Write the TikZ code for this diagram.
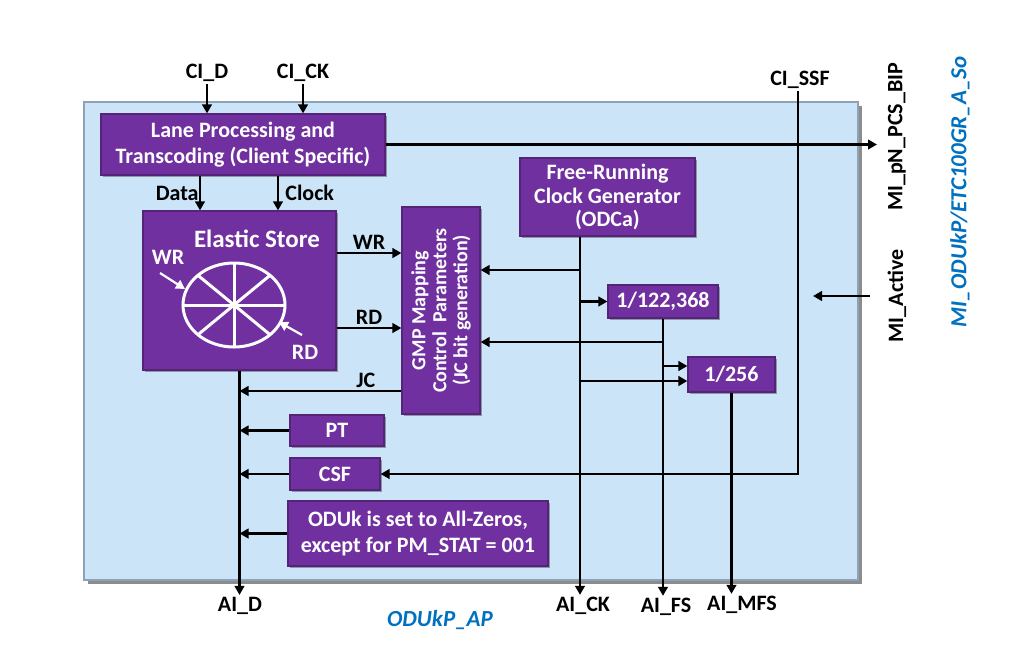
\documentclass[tikz,border=0pt]{standalone}
\usepackage{fontspec}
\setmainfont{Carlito}
\usetikzlibrary{arrows.meta,shadows}
\definecolor{odupurple}{HTML}{7030A0}
\definecolor{oduedge}{HTML}{54237A}
\definecolor{odusky}{HTML}{CCE4F8}
\definecolor{oduframe}{HTML}{8DA2B6}
\definecolor{odublue}{HTML}{0070C0}
\tikzset{
	fnbox/.style={draw=oduedge, line width=0.6pt, fill=odupurple, text=white,
		font=\bfseries\fontsize{11}{13}\selectfont, align=center, inner sep=0pt,
		drop shadow={shadow xshift=1pt, shadow yshift=-1pt, fill=black!60, opacity=0.6}},
	sig/.style={line width=1.4pt, -{Triangle[length=4.5pt,width=4.8pt]}},
	lbl/.style={font=\bfseries\fontsize{11}{12}\selectfont, inner sep=1pt},
	inlbl/.style={lbl, text=white},
	ttl/.style={font=\bfseries\itshape\fontsize{11.5}{12}\selectfont, text=odublue, inner sep=1pt}
}
\begin{document}
\begin{tikzpicture}[x=0.5pt,y=-0.5pt]
			\useasboundingbox (0,0) rectangle (1024,666);
			\fill[black!45] (88,106) rectangle (862,584);
			\draw[oduframe, fill=odusky, line width=0.8pt] (84,102) rectangle (858,580);
			\node[fnbox, minimum width=142pt, minimum height=30.5pt] (lane) at (243,144.5) {Lane Processing and\\Transcoding (Client Specific)};
			\node[fnbox, minimum width=96.5pt, minimum height=79.5pt] (es) at (239.5,290.5) {};
			\node[inlbl, font=\bfseries\fontsize{12.5}{14}\selectfont] (estitle) at (257,239) {Elastic Store};
			\node[fnbox, minimum width=39pt, minimum height=103.5pt] (gmp) at (441,310.5) {};
			\node[inlbl, rotate=90, align=center, font=\bfseries\fontsize{10}{10.5}\selectfont] (gmptext) at (gmp) {GMP Mapping\\Control~ Parameters\\(JC bit generation)};
			\node[fnbox, minimum width=87.5pt, minimum height=39pt, font=\bfseries\fontsize{11}{11.8}\selectfont] (frcg) at (607.5,197) {Free-Running\\Clock Generator\\(ODCa)};
			\node[fnbox, minimum width=55pt, minimum height=16.5pt] (divfs) at (663,301.5) {1/122,368};
			\node[fnbox, minimum width=43.5pt, minimum height=17.5pt] (divmfs) at (731.5,374.5) {1/256};
			\node[fnbox, minimum width=47pt, minimum height=15.5pt] (pt) at (337,430.5) {PT};
			\node[fnbox, minimum width=45pt, minimum height=16pt] (csf) at (335,474) {CSF};
			\node[fnbox, minimum width=130pt, minimum height=32.5pt] (zeros) at (418,533.5) {ODUk is set to All-Zeros,\\except for PM\_STAT = 001};

			\draw[white, line width=1.5pt] (234,305) ellipse [x radius=51, y radius=42];
			\foreach \a in {0,45,90,135}
				\draw[white, line width=1.5pt] ({234+51*cos(\a)},{305+42*sin(\a)}) -- ({234-51*cos(\a)},{305-42*sin(\a)});
			\node[inlbl] (eswr) at (168,257) {WR};
			\node[inlbl] (esrd) at (305,352) {RD};
			\coordinate (wrfrom) at (160,273);
			\coordinate (wrto) at (185,289);
			\coordinate (rdfrom) at (302,335);
			\coordinate (rdto) at (279,322);
			\draw[sig, white, line width=1.1pt] (wrfrom) -- (wrto);
			\draw[sig, white, line width=1.1pt] (rdfrom) -- (rdto);

			\node[lbl] (cid) at (207,73) {CI\_D};
			\node[lbl] (cick) at (303,73) {CI\_CK};
			\node[lbl] (cissf) at (800,80) {CI\_SSF};
			\node[lbl] (aid) at (240,606) {AI\_D};
			\node[lbl] (aick) at (583,606) {AI\_CK};
			\node[lbl] (aifs) at (666,607) {AI\_FS};
			\node[lbl] (aimfs) at (742,605) {AI\_MFS};
			\node[lbl, rotate=90] (mipn) at (897,137) {MI\_pN\_PCS\_BIP};
			\node[lbl, rotate=90] (miact) at (897,296) {MI\_Active};
			\node[ttl, rotate=90] (apname) at (960,192) {MI\_ODUkP/ETC100GR\_A\_So};
			\node[ttl] (ap) at (440,620) {ODUkP\_AP};
			\coordinate (mipnend) at (877,144.5);
			\coordinate (miactfrom) at (870,296);
			\coordinate (miactto) at (813,296);

			\draw[sig] (cid) -- (cid |- lane.north);
			\draw[sig] (cick) -- (cick |- lane.north);
			\draw[sig] (lane.east) -- (mipnend);
			\draw[sig] (miactfrom) -- (miactto);
			\draw[sig] (200,0 |- lane.south) -- (200,0 |- es.north) node[lbl, midway, left=-1pt] (datal) {Data};
			\draw[sig] (278,0 |- lane.south) -- (278,0 |- es.north) node[lbl, midway, right=2pt] (clockl) {Clock};
			\draw[sig] (es.east |- 0,253) -- (gmp.west |- 0,253) node[lbl, midway, above] (wrl) {WR};
			\draw[sig] (es.east |- 0,328) -- (gmp.west |- 0,328) node[lbl, midway, above] (rdl) {RD};
			\draw[sig] (gmp.west |- 0,391) -- (es.south |- 0,391) node[lbl, pos=0.22, above] (jcl) {JC};
			\draw[sig] (es.south) -- (es.south |- aid.north);
			\draw[sig] (pt.west) -- (pt.west -| es.south);
			\draw[sig] (csf.west) -- (csf.west -| es.south);
			\draw[sig] (zeros.west) -- (zeros.west -| es.south);
			\draw[sig] (cissf.south -| 798,0) -- (798,0 |- csf.east) -- (csf.east);
			\draw[sig] (580,0 |- frcg.south) -- (580,0 |- aick.north);
			\draw[sig] (580,270) -- (gmp.east |- 0,270);
			\draw[sig] (580,0 |- divfs.west) -- (divfs.west);
			\draw[sig] (580,381) -- (divmfs.west |- 0,381);
			\draw[sig] (divfs.south) -- (divfs.south |- aifs.north);
			\draw[sig] (663,342) -- (gmp.east |- 0,342);
			\draw[sig] (663,366) -- (divmfs.west |- 0,366);
			\draw[sig] (divmfs.south) -- (divmfs.south |- aimfs.north);
		\end{tikzpicture}
\end{document}
